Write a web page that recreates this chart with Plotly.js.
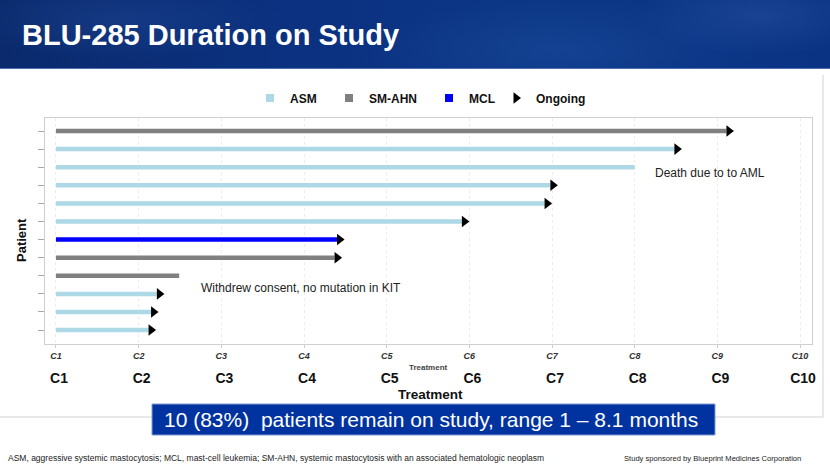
<!DOCTYPE html>
<html>
<head>
<meta charset="utf-8">
<script src="https://cdn.plot.ly/plotly-3.0.1.min.js"></script>
<style>
  html, body { margin: 0; padding: 0; background: #ffffff; }
  #wrap { position: relative; width: 830px; height: 467px; overflow: hidden; }
  #header {
    position: absolute; left: 0; top: 0; width: 830px; height: 68px;
    background:
      radial-gradient(ellipse 160px 40px at 120px 20px, rgba(40,80,160,0.35), rgba(0,0,0,0)),
      radial-gradient(ellipse 200px 50px at 560px 50px, rgba(40,90,170,0.30), rgba(0,0,0,0)),
      radial-gradient(ellipse 120px 40px at 760px 15px, rgba(60,100,180,0.30), rgba(0,0,0,0)),
      linear-gradient(90deg, #0a2a6c 0%, #0b3180 35%, #0c3787 65%, #0a3384 100%);
    border-bottom: 1px solid #4f70b4;
  }
  #chart { position: absolute; left: 0; top: 0; width: 830px; height: 467px; z-index: 1; }
</style>
</head>
<body>
<div id="wrap">
  <div id="header"></div>
  <div id="chart"></div>
</div>
<script>
// ---------------- data ----------------
const patients = ['P1','P2','P3','P4','P5','P6','P7','P8','P9','P10','P11','P12'];
const diagnosis = ['SM-AHN','ASM','ASM','ASM','ASM','ASM','MCL','SM-AHN','SM-AHN','ASM','ASM','ASM'];
const durationMonths = [8.11, 7.48, 7.00, 5.98, 5.91, 4.91, 3.40, 3.37, 1.49, 1.22, 1.15, 1.12];
const ongoing = [true, true, false, true, true, true, true, true, false, true, true, true];
const startCycle = 1;
const cycleTicks = [1, 2, 3, 4, 5, 6, 7, 8, 9, 10];
const cycleLabels = ['C1','C2','C3','C4','C5','C6','C7','C8','C9','C10'];
const groupNames = ['ASM', 'SM-AHN', 'MCL'];
const groupColors = {'ASM': '#add8e6', 'SM-AHN': '#808080', 'MCL': '#0000ff'};

// ---------------- layout constants ----------------
const FONT = 'Liberation Sans, Arial, sans-serif';
const W = 830, H = 467;
const M = {l: 45, r: 18, t: 118, b: 123};
const xRange = [0.867, 10.145];
const plotW = W - M.l - M.r;
const plotH = H - M.t - M.b;
const pxPerUnit = plotW / (xRange[1] - xRange[0]);
const arrowSize = 10;
const arrowOffset = (arrowSize / 4) / pxPerUnit;
// pixel -> paper helpers for slide decorations
const px = x => (x - M.l) / plotW;
const py = y => (M.t + plotH - y) / plotH;

// legend entry x positions (text start, px)
const legendTextX = [290, 369, 469, 536];
const legendIds = ['legend', 'legend2', 'legend3', 'legend4'];

const traces = [];
// duration bars
patients.forEach((p, i) => {
  traces.push({
    type: 'scatter', mode: 'lines',
    x: [startCycle, startCycle + durationMonths[i]],
    y: [p, p],
    line: {color: groupColors[diagnosis[i]], width: 4.5},
    showlegend: false, hoverinfo: 'skip'
  });
});
// legend entries for groups
groupNames.forEach((g, k) => {
  traces.push({
    type: 'scatter', mode: 'markers', x: [null], y: [null], xaxis: 'x2',
    name: g, legend: legendIds[k],
    marker: {symbol: 'square', size: 8, color: groupColors[g]},
    showlegend: true, hoverinfo: 'skip'
  });
});
// ongoing arrows
const arrX = [], arrY = [];
patients.forEach((p, i) => {
  if (ongoing[i]) { arrX.push(startCycle + durationMonths[i] + arrowOffset); arrY.push(p); }
});
traces.push({
  type: 'scatter', mode: 'markers', x: arrX, y: arrY, name: 'Ongoing', legend: legendIds[3],
  marker: {symbol: 'triangle-right', size: arrowSize, color: '#000000'},
  showlegend: true, hoverinfo: 'skip'
});

const legendStyle = x => ({
  orientation: 'h', x: px(x - 40), xanchor: 'left', y: py(98), yanchor: 'middle',
  font: {family: FONT, size: 12, color: '#111', weight: 'bold'},
  bgcolor: 'rgba(0,0,0,0)', borderwidth: 0
});

const layout = {
  width: W, height: H,
  margin: {l: M.l, r: M.r, t: M.t, b: M.b, pad: 0},
  paper_bgcolor: 'rgba(0,0,0,0)',
  plot_bgcolor: '#ffffff',
  font: {family: FONT, color: '#222'},
  title: {
    text: 'BLU-285 Duration on Study',
    xref: 'container', yref: 'container',
    x: 22 / W, xanchor: 'left', y: 1 - 35 / H, yanchor: 'middle',
    font: {family: FONT, size: 29, color: '#ffffff', weight: 'bold'}
  },
  showlegend: true,
  legend: legendStyle(legendTextX[0]),
  legend2: legendStyle(legendTextX[1]),
  legend3: legendStyle(legendTextX[2]),
  legend4: legendStyle(legendTextX[3]),
  xaxis: {
    range: xRange, tickmode: 'array', tickvals: cycleTicks, ticktext: cycleLabels,
    tickfont: {family: FONT, size: 9, color: '#333', style: 'italic', weight: 'bold'},
    ticks: 'outside', ticklen: 3, tickcolor: '#cccccc',
    showline: true, mirror: true, linecolor: '#cfcfcf', linewidth: 1,
    showgrid: true, gridcolor: '#ececec', griddash: 'dot', gridwidth: 1,
    zeroline: false, fixedrange: true
  },
  xaxis2: {
    overlaying: 'x', anchor: 'y', side: 'bottom', range: xRange,
    tickmode: 'array', tickvals: cycleTicks, ticktext: cycleLabels,
    tickfont: {family: FONT, size: 14, color: '#111', weight: 'bold'},
    ticks: '', showgrid: false, showline: false, zeroline: false,
    ticklabelstandoff: 24, ticklabelshift: 3, fixedrange: true
  },
  yaxis: {
    type: 'category', categoryorder: 'array', categoryarray: patients,
    range: [11.77, -0.72], showticklabels: false,
    ticks: 'outside', ticklen: 6, tickcolor: '#aaaaaa', tickwidth: 1,
    showline: true, mirror: true, linecolor: '#cfcfcf', linewidth: 1,
    showgrid: false, zeroline: false, fixedrange: true
  },
  shapes: [
    // picture border of the embedded chart
    {type: 'line', xref: 'paper', yref: 'paper', x0: px(0), x1: px(823), y0: py(417), y1: py(417),
     line: {color: '#d2d2d2', width: 1}},
    {type: 'line', xref: 'paper', yref: 'paper', x0: px(823), x1: px(823), y0: py(75), y1: py(417),
     line: {color: '#d2d2d2', width: 1}},
    // summary box
    {type: 'rect', xref: 'paper', yref: 'paper', x0: px(152), x1: px(715), y0: py(435), y1: py(404),
     fillcolor: '#0033a0', line: {color: '#7f9bd6', width: 1}, layer: 'above'}
  ],
  annotations: [
    {text: 'Treatment', xref: 'paper', yref: 'paper', x: px(428), y: py(367),
     xanchor: 'center', yanchor: 'middle',
     showarrow: false, font: {family: FONT, size: 8, color: '#444', weight: 'bold'}},
    {text: 'Treatment', xref: 'paper', yref: 'paper', x: px(430), y: py(394),
     xanchor: 'center', yanchor: 'middle',
     showarrow: false, font: {family: FONT, size: 13.5, color: '#111', weight: 'bold'}},
    {text: 'Patient', xref: 'paper', yref: 'paper', x: px(21), y: py(240), textangle: -90,
     xanchor: 'center', yanchor: 'middle',
     showarrow: false, font: {family: FONT, size: 13, color: '#111', weight: 'bold'}},
    {text: 'Death due to to AML', xref: 'x', yref: 'y', x: 8.22, y: 2.33,
     xanchor: 'left', yanchor: 'middle', showarrow: false,
     font: {family: FONT, size: 12, color: '#222'}},
    {text: 'Withdrew consent, no mutation in KIT', xref: 'x', yref: 'y', x: 2.73, y: 8.67,
     xanchor: 'left', yanchor: 'middle', showarrow: false,
     font: {family: FONT, size: 12, color: '#222'}},
    {text: '10 (83%)  patients remain on study, range 1 \u2013 8.1 months', xref: 'paper', yref: 'paper',
     x: px(431), y: py(419.5), xanchor: 'center', yanchor: 'middle', showarrow: false,
     font: {family: FONT, size: 21, color: '#ffffff'}},
    {text: 'ASM, aggressive systemic mastocytosis; MCL, mast-cell leukemia; SM-AHN, systemic mastocytosis with an associated hematologic neoplasm',
     xref: 'paper', yref: 'paper', x: px(6), y: py(458), xanchor: 'left', yanchor: 'middle', showarrow: false,
     font: {family: FONT, size: 8.5, color: '#222'}},
    {text: 'Study sponsored by Blueprint Medicines Corporation',
     xref: 'paper', yref: 'paper', x: px(622), y: py(458), xanchor: 'left', yanchor: 'middle', showarrow: false,
     font: {family: FONT, size: 7.6, color: '#222'}}
  ]
};

Plotly.newPlot('chart', traces, layout, {displayModeBar: false, staticPlot: true});
</script>
</body>
</html>
